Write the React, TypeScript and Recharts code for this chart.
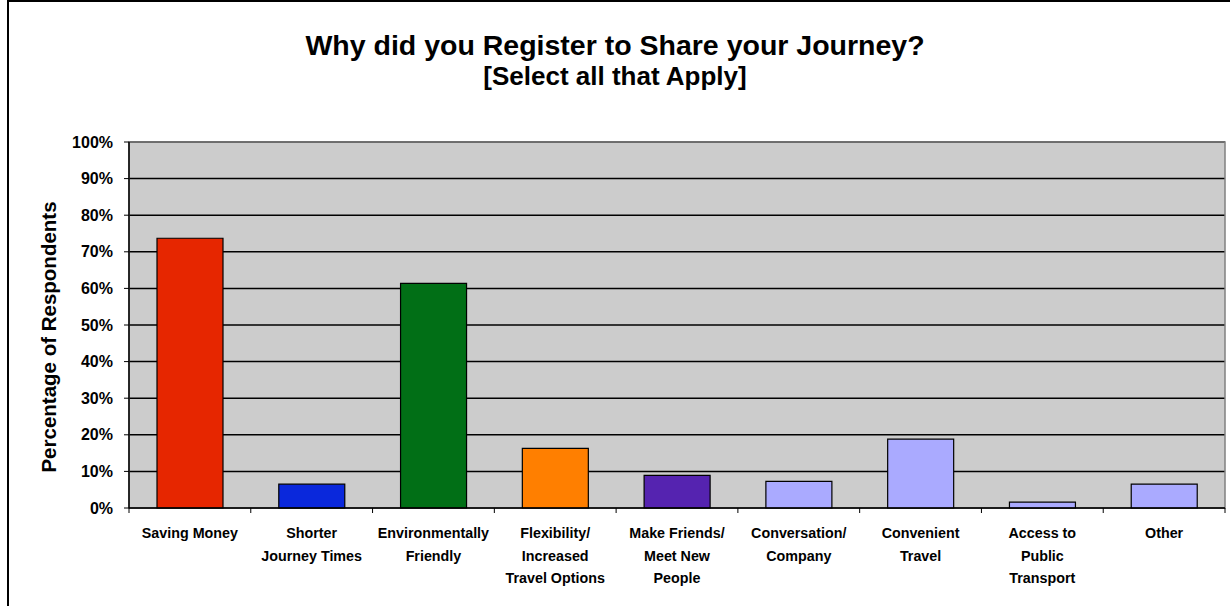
import { BarChart, Bar, XAxis, YAxis, CartesianGrid, Cell, ReferenceArea } from 'recharts';

// categories (line breaks as in the original labels)
const categories = [
  'Saving Money',
  'Shorter\nJourney Times',
  'Environmentally\nFriendly',
  'Flexibility/\nIncreased\nTravel Options',
  'Make Friends/\nMeet New\nPeople',
  'Conversation/\nCompany',
  'Convenient\nTravel',
  'Access to\nPublic\nTransport',
  'Other',
];
const percentages = [73.7, 6.5, 61.4, 16.3, 8.9, 7.3, 18.8, 1.6, 6.5];
const barColors = [
  '#E62600',
  '#0A28DC',
  '#016F16',
  '#FF7F00',
  '#5523B0',
  '#AAAAFF',
  '#AAAAFF',
  '#AAAAFF',
  '#AAAAFF',
];
const yTicks = [0, 10, 20, 30, 40, 50, 60, 70, 80, 90, 100];

const data = categories.map((name, i) => ({ name, value: percentages[i] }));

const FONT = '"Liberation Sans", Arial, sans-serif';
const CHART_W = 1230;
const CHART_H = 606;
const MARGIN = { top: 142, right: 5, bottom: 8, left: 10 };
const Y_AXIS_W = 119;
const PLOT_W = CHART_W - MARGIN.left - MARGIN.right - Y_AXIS_W;
const BAND = PLOT_W / categories.length;

const CategoryTick = (props: any) => {
  const { x, y, payload, index } = props;
  const lines = String(payload.value).split('\n');
  const left = x - BAND / 2;
  return (
    <g>
      <line x1={left} x2={left} y1={y - 5} y2={y} stroke="#000" />
      {index === categories.length - 1 && (
        <line x1={x + BAND / 2} x2={x + BAND / 2} y1={y - 5} y2={y} stroke="#000" />
      )}
      <text
        x={x}
        y={y + 25}
        textAnchor="middle"
        fontFamily={FONT}
        fontWeight="bold"
        fontSize={14.3}
        fill="#000"
      >
        {lines.map((l, i) => (
          <tspan key={i} x={x} dy={i === 0 ? 0 : 22.5}>
            {l}
          </tspan>
        ))}
      </text>
    </g>
  );
};

export default function App() {
  return (
    <div
      style={{
        position: 'absolute',
        left: 0,
        top: 0,
        width: CHART_W,
        height: CHART_H,
        background: '#fff',
        overflow: 'hidden',
      }}
    >
      <div
        style={{
          position: 'absolute',
          left: 7,
          top: 0,
          width: 1250,
          height: 640,
          border: '2px solid #000',
          boxSizing: 'border-box',
        }}
      />
      <div
        style={{
          position: 'absolute',
          left: 0,
          top: 29,
          width: CHART_W,
          textAlign: 'center',
          fontFamily: FONT,
          fontWeight: 'bold',
          color: '#000',
        }}
      >
        <div style={{ fontSize: 28.5, lineHeight: '32px' }}>Why did you Register to Share your Journey?</div>
        <div style={{ fontSize: 26, lineHeight: '30px' }}>[Select all that Apply]</div>
      </div>
      <div style={{ position: 'absolute', left: 0, top: 0 }}>
        <BarChart width={CHART_W} height={CHART_H} data={data} margin={MARGIN}>
          <CartesianGrid vertical={false} fill="#CCCCCC" stroke="#000" strokeWidth={1.5} />
          <ReferenceArea y1={0} y2={100} fill="none" stroke="#808080" strokeWidth={1.5} />
          <XAxis
            dataKey="name"
            interval={0}
            height={90}
            tickLine={false}
            tickSize={5}
            tickMargin={0}
            axisLine={{ stroke: '#000', strokeWidth: 1.5 }}
            tick={<CategoryTick />}
          />
          <YAxis
            width={Y_AXIS_W}
            domain={[0, 100]}
            ticks={yTicks}
            interval={0}
            tickFormatter={(v: number) => `${v}%`}
            tickSize={5}
            tickMargin={11}
            axisLine={{ stroke: '#000', strokeWidth: 1.5 }}
            tickLine={{ stroke: '#000' }}
            tick={{ fill: '#000', fontFamily: FONT, fontWeight: 'bold', fontSize: 16 }}
            label={{
              content: () => (
                <text
                  x={MARGIN.left + 38}
                  y={337}
                  transform={`rotate(-90, ${MARGIN.left + 38}, 337)`}
                  textAnchor="middle"
                  dominantBaseline="central"
                  fontFamily={FONT}
                  fontWeight="bold"
                  fontSize={20.5}
                  fill="#000"
                >
                  Percentage of Respondents
                </text>
              ),
            }}
          />
          <Bar dataKey="value" barSize={66} stroke="#000" strokeWidth={1.2} isAnimationActive={false}>
            {data.map((d, i) => (
              <Cell key={d.name} fill={barColors[i]} />
            ))}
          </Bar>
        </BarChart>
      </div>
    </div>
  );
}
